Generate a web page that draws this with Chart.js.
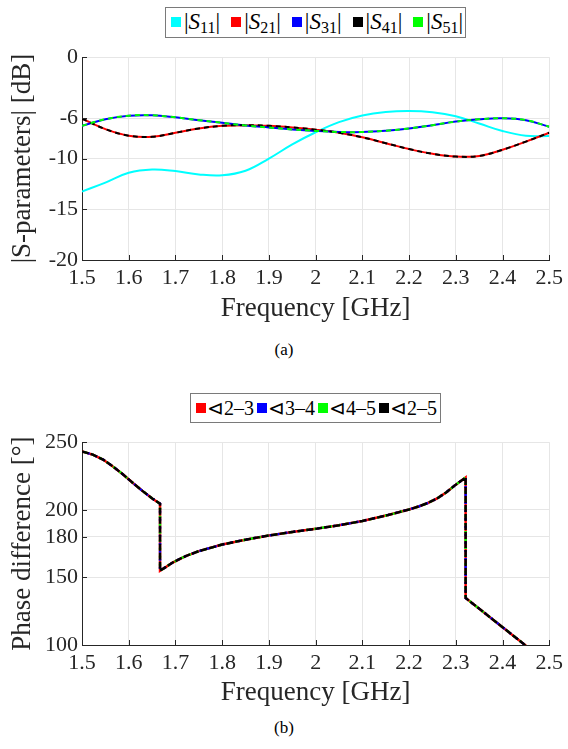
<!DOCTYPE html>
<html lang="en">
<head>
<meta charset="utf-8">
<title>S-parameters and phase difference</title>
<style>
  * { margin: 0; padding: 0; box-sizing: border-box; }
  body {
    width: 568px; height: 749px; position: relative; overflow: hidden;
    background: #fff; font-family: "Liberation Serif", serif; color: #000;
  }
  canvas { position: absolute; left: 0; }
  #sparam-chart { top: 40px; }
  #phase-chart { top: 425px; }
  .legend {
    position: absolute; height: 31px; display: flex; align-items: center;
    border: 1px solid #7a7a7a; background: #fff; padding: 0 2px 0 3px;
    font-size: 23px; white-space: nowrap; line-height: 1;
  }
  .legend .item { display: inline-block; margin-right: 9px; }
  .legend .item:last-child { margin-right: 0; }
  .legend .sw { display: inline-block; width: 10px; height: 10px; margin: 0 3px 0 2px; vertical-align: 2px; }
  .legend sub { font-size: 16px; font-style: normal; vertical-align: -4px; }
  #phase-legend .item { margin-right: 1px; }
  #phase-legend .sw { margin: 0 1px 0 2px; }
  .caption { position: absolute; left: 0; width: 568px; text-align: center; font-size: 17px; }
</style>
</head>
<body>
  <div class="legend" style="left:165px; top:7px;">
    <span class="item"><span class="sw" style="background:#00ffff"></span>|<i>S</i><sub>11</sub>|</span>
    <span class="item"><span class="sw" style="background:#ff0000"></span>|<i>S</i><sub>21</sub>|</span>
    <span class="item"><span class="sw" style="background:#0000ff"></span>|<i>S</i><sub>31</sub>|</span>
    <span class="item"><span class="sw" style="background:#000000"></span>|<i>S</i><sub>41</sub>|</span>
    <span class="item"><span class="sw" style="background:#00ff00"></span>|<i>S</i><sub>51</sub>|</span>
  </div>
  <canvas id="sparam-chart" width="568" height="290"></canvas>
  <div class="caption" style="top:340px;">(a)</div>

  <div class="legend" id="phase-legend" style="left:190px; top:393px; height:30px; font-size:20px;">
    <span class="item"><span class="sw" style="background:#ff0000"></span>⊲2–3</span>
    <span class="item"><span class="sw" style="background:#0000ff"></span>⊲3–4</span>
    <span class="item"><span class="sw" style="background:#00ff00"></span>⊲4–5</span>
    <span class="item"><span class="sw" style="background:#000000"></span>⊲2–5</span>
  </div>
  <canvas id="phase-chart" width="568" height="290"></canvas>
  <div class="caption" style="top:718px;">(b)</div>

  <script src="https://cdn.jsdelivr.net/npm/chart.js@4.4.1/dist/chart.umd.min.js"></script>
  <script>
    // frequency ticks shared by both plots
    const freqTicks = [1.5, 1.6, 1.7, 1.8, 1.9, 2.0, 2.1, 2.2, 2.3, 2.4, 2.5];

    // (a) magnitude of S-parameters, dB
    const freq = [1.5, 1.55, 1.6, 1.65, 1.7, 1.75, 1.8, 1.85, 1.9, 1.95, 2.0,
                  2.05, 2.1, 2.15, 2.2, 2.25, 2.3, 2.35, 2.4, 2.45, 2.5];
    const s11 = [-13.24, -12.37, -11.4, -11.07, -11.23, -11.56, -11.65, -11.2, -10.0, -8.6, -7.4,
                 -6.4, -5.75, -5.41, -5.31, -5.44, -5.83, -6.54, -7.28, -7.75, -7.78];
    const s21 = [-6.05, -7.09, -7.74, -7.85, -7.45, -7.03, -6.77, -6.7, -6.77, -6.93, -7.15,
                 -7.45, -7.9, -8.48, -9.06, -9.52, -9.8, -9.74, -9.13, -8.32, -7.45];
    const s31 = [-6.77, -6.12, -5.77, -5.73, -5.93, -6.21, -6.47, -6.73, -6.93, -7.12, -7.27,
                 -7.37, -7.38, -7.25, -7.03, -6.7, -6.35, -6.12, -6.02, -6.21, -6.86];
    const s41 = [-6.05, -7.09, -7.74, -7.85, -7.45, -7.03, -6.77, -6.7, -6.77, -6.93, -7.15,
                 -7.45, -7.9, -8.48, -9.06, -9.52, -9.8, -9.74, -9.13, -8.32, -7.45];
    const s51 = [-6.77, -6.12, -5.77, -5.73, -5.93, -6.21, -6.47, -6.73, -6.93, -7.12, -7.27,
                 -7.37, -7.38, -7.25, -7.03, -6.7, -6.35, -6.12, -6.02, -6.21, -6.86];
    const dbTicks = [0, -6, -10, -15, -20];

    // (b) phase difference between neighbouring ports, degrees
    const phaseFreq = [1.5, 1.523, 1.545, 1.566, 1.588, 1.609, 1.63, 1.651, 1.667, 1.667,
                       1.68, 1.694, 1.722, 1.75, 1.8, 1.85, 1.9, 1.95, 2.0, 2.05,
                       2.1, 2.155, 2.2, 2.22, 2.24, 2.26, 2.28, 2.3, 2.321, 2.321, 2.4, 2.5];
    const phase23 = [243.2, 240.8, 237.2, 232.1, 226.1, 219.8, 213.8, 208.2, 204.6, 155,
                     157.8, 161, 165.8, 169.4, 174.3, 177.9, 181, 183.6, 185.9, 188.6,
                     191.7, 196.1, 200.2, 202.4, 205.0, 208.4, 213.0, 218.6, 223.9, 134.8, 113.2, 85.8];
    const phase34 = [243.2, 240.8, 237.2, 232.1, 226.1, 219.8, 213.8, 208.2, 204.6, 155,
                     157.8, 161, 165.8, 169.4, 174.3, 177.9, 181, 183.6, 185.9, 188.6,
                     191.7, 196.1, 200.2, 202.4, 205.0, 208.4, 213.0, 218.6, 223.9, 134.8, 113.2, 85.8];
    const phase45 = [243.2, 240.8, 237.2, 232.1, 226.1, 219.8, 213.8, 208.2, 204.6, 155,
                     157.8, 161, 165.8, 169.4, 174.3, 177.9, 181, 183.6, 185.9, 188.6,
                     191.7, 196.1, 200.2, 202.4, 205.0, 208.4, 213.0, 218.6, 223.9, 134.8, 113.2, 85.8];
    const phase25 = [243.2, 240.8, 237.2, 232.1, 226.1, 219.8, 213.8, 208.2, 204.6, 155,
                     157.8, 161, 165.8, 169.4, 174.3, 177.9, 181, 183.6, 185.9, 188.6,
                     191.7, 196.1, 200.2, 202.4, 205.0, 208.4, 213.0, 218.6, 223.9, 134.8, 113.2, 85.8];
    const phaseTicks = [100, 150, 180, 200, 250];

    const FONT = "'Liberation Serif', 'DejaVu Serif', serif";
    const AXIS = "#262626";
    const GRID = "#e6e6e6";

    const pts = (xs, ys) => xs.map((x, i) => ({ x, y: ys[i] }));

    // MATLAB style ticks pointing into the plot
    const inwardTicks = {
      id: "inwardTicks",
      afterDraw(chart) {
        const { ctx, chartArea: a, scales: { x, y } } = chart;
        ctx.save();
        ctx.strokeStyle = AXIS;
        ctx.lineWidth = 1;
        ctx.beginPath();
        x.ticks.forEach(t => {
          const px = Math.round(x.getPixelForValue(t.value)) + 0.5;
          ctx.moveTo(px, a.bottom); ctx.lineTo(px, a.bottom - 5);
        });
        y.ticks.forEach(t => {
          const py = Math.round(y.getPixelForValue(t.value)) + 0.5;
          ctx.moveTo(a.left, py); ctx.lineTo(a.left + 5, py);
        });
        ctx.stroke();
        ctx.restore();
      }
    };

    function scales(yMin, yMax, yTicks, yTitle, xTitlePad) {
      return {
        x: {
          type: "linear", min: 1.5, max: 2.5,
          afterBuildTicks: s => { s.ticks = freqTicks.map(v => ({ value: v })); },
          afterFit: s => { s.height = 70; },
          grid: { color: GRID, drawTicks: false },
          border: { color: AXIS, width: 1 },
          ticks: {
            padding: 5, color: AXIS, autoSkip: false, maxRotation: 0,
            font: { family: FONT, size: 22 },
            callback: v => String(+v.toFixed(1))
          },
          title: {
            display: true, text: "Frequency [GHz]", color: AXIS,
            font: { family: FONT, size: 27 }, padding: { top: 0, bottom: xTitlePad }
          }
        },
        y: {
          type: "linear", min: yMin, max: yMax,
          afterBuildTicks: s => { s.ticks = yTicks.map(v => ({ value: v })); },
          afterFit: s => { s.width = 82; },
          grid: { color: GRID, drawTicks: false },
          border: { color: AXIS, width: 1 },
          ticks: {
            padding: 4, color: AXIS, autoSkip: false,
            font: { family: FONT, size: 22 },
            callback: v => String(v)
          },
          title: {
            display: true, text: yTitle, color: AXIS,
            font: { family: FONT, size: 27 }, padding: { top: 7, bottom: 0 }
          }
        }
      };
    }

    const common = {
      responsive: false,
      devicePixelRatio: 1,
      animation: false,
      layout: { padding: { left: 0, right: 16, top: 14, bottom: 0 } },
      plugins: { legend: { display: false }, tooltip: { enabled: false } },
      elements: { point: { radius: 0 } }
    };

    new Chart(document.getElementById("sparam-chart"), {
      type: "line",
      plugins: [inwardTicks],
      data: {
        datasets: [
          { label: "|S11|", data: pts(freq, s11), borderColor: "#00ffff", borderWidth: 2, order: 5, tension: 0.4 },
          { label: "|S21|", data: pts(freq, s21), borderColor: "#ff0000", borderWidth: 2, order: 4, tension: 0.4 },
          { label: "|S31|", data: pts(freq, s31), borderColor: "#0000ff", borderWidth: 2, order: 3, tension: 0.4 },
          { label: "|S41|", data: pts(freq, s41), borderColor: "#000000", borderWidth: 2, borderDash: [5, 4], order: 2, tension: 0.4 },
          { label: "|S51|", data: pts(freq, s51), borderColor: "#00ff00", borderWidth: 2, borderDash: [5, 4], order: 1, tension: 0.4 }
        ]
      },
      options: { ...common, scales: scales(-20, 0, dbTicks, "|S-parameters| [dB]", 5) }
    });

    new Chart(document.getElementById("phase-chart"), {
      type: "line",
      plugins: [inwardTicks],
      data: {
        datasets: [
          { label: "∠2-3", data: pts(phaseFreq, phase23), borderColor: "#ff0000", borderWidth: 2.5, order: 4, tension: 0 },
          { label: "∠3-4", data: pts(phaseFreq, phase34), borderColor: "#0000ff", borderWidth: 2.5, borderDash: [2, 6], borderDashOffset: 2, order: 3, tension: 0 },
          { label: "∠4-5", data: pts(phaseFreq, phase45), borderColor: "#00ff00", borderWidth: 2.5, borderDash: [2, 6], borderDashOffset: 5, order: 2, tension: 0 },
          { label: "∠2-5", data: pts(phaseFreq, phase25), borderColor: "#000000", borderWidth: 2.5, borderDash: [7, 2], order: 1, tension: 0 }
        ]
      },
      options: { ...common, scales: scales(100, 250, phaseTicks, "Phase difference [°]", 6) }
    });
  </script>
</body>
</html>
